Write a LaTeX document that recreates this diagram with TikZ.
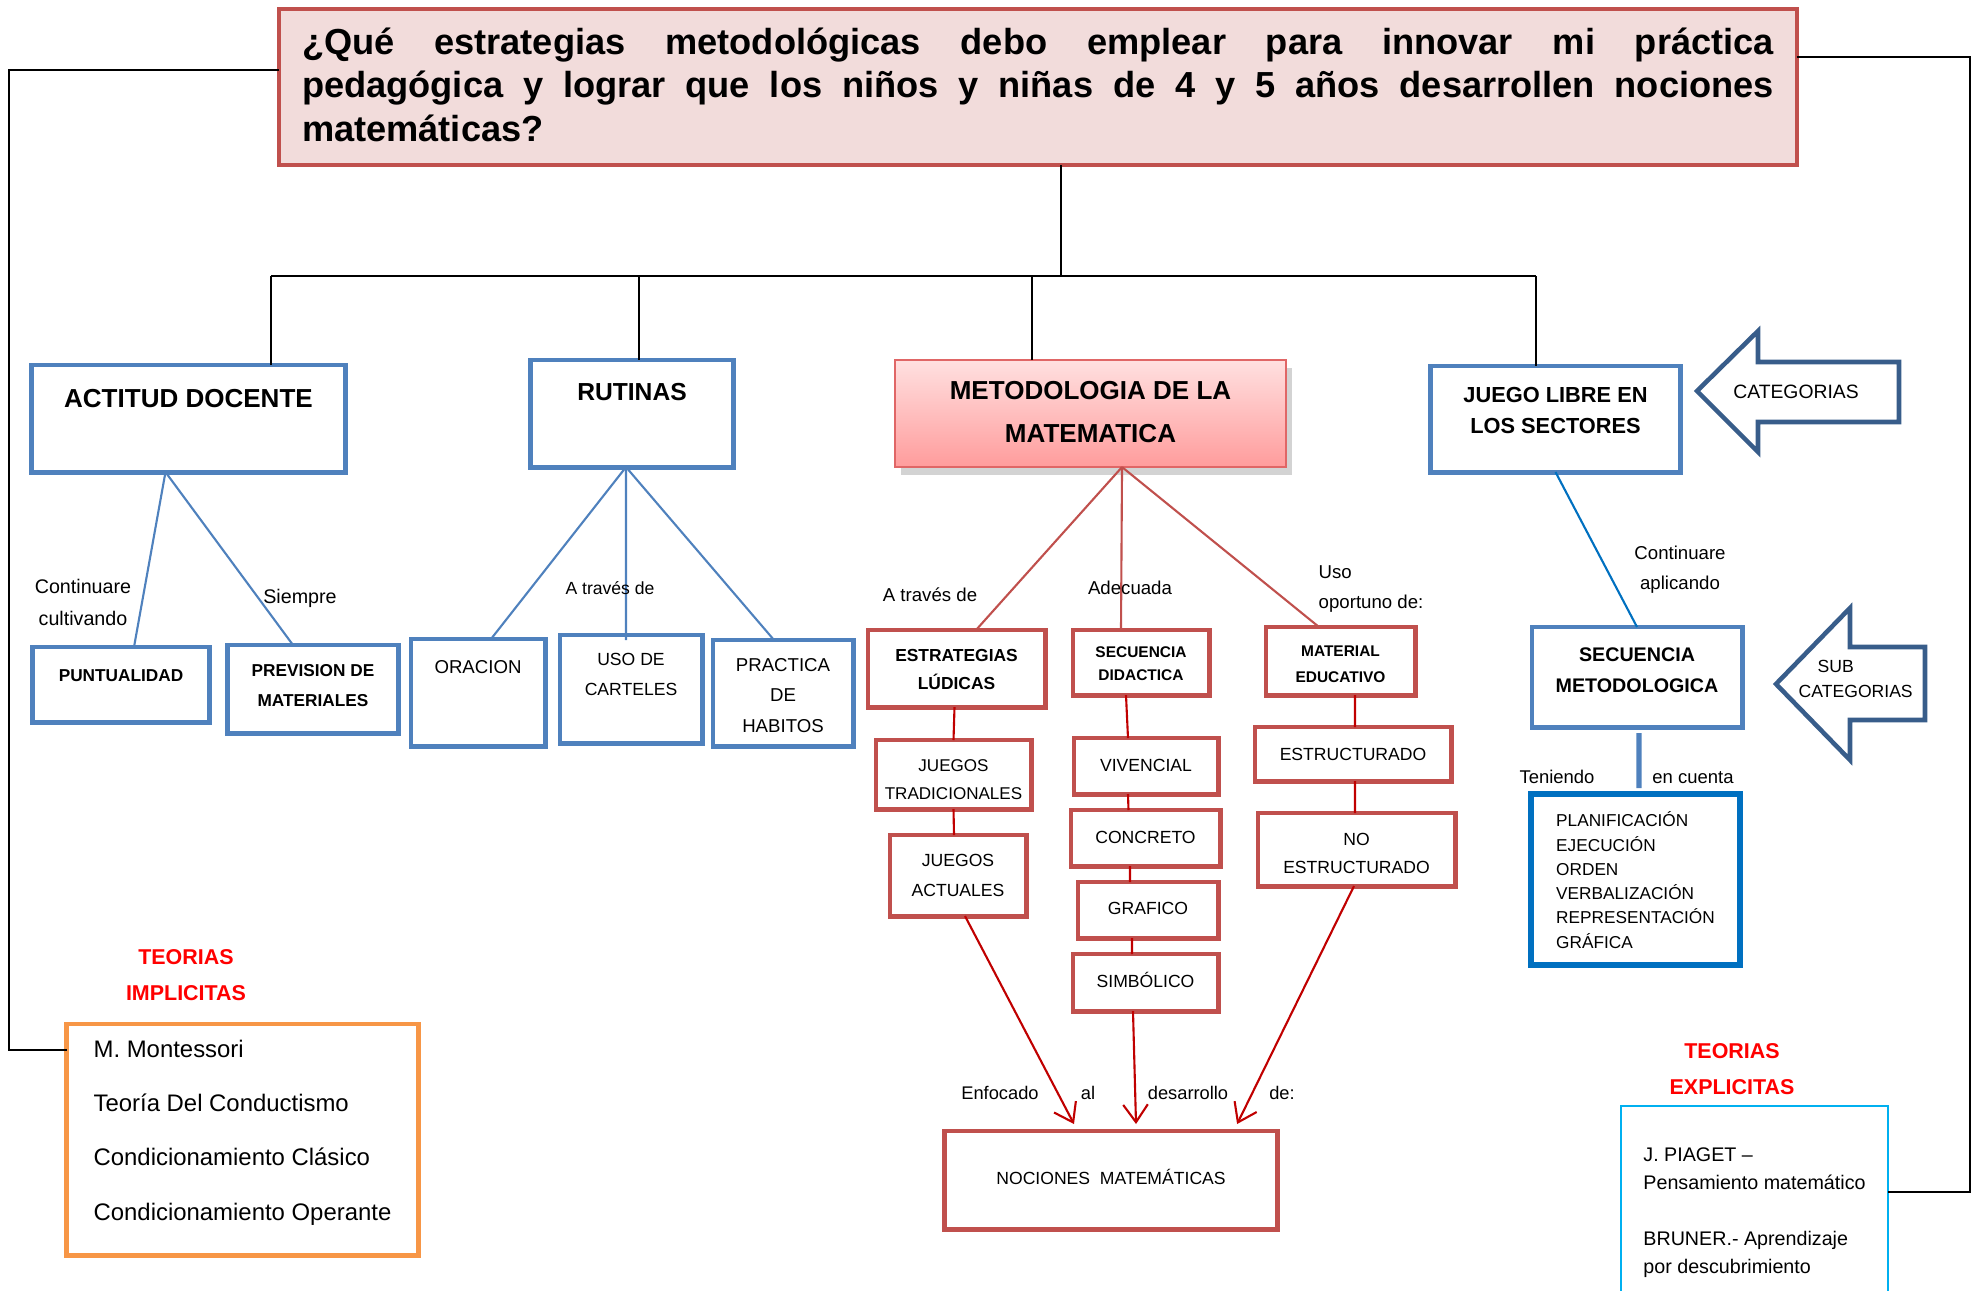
\documentclass[tikz,border=0pt]{standalone}
\usepackage{fontspec}
\setmainfont{Liberation Sans}
\usetikzlibrary{shadows,arrows.meta}

\definecolor{azul}{HTML}{4F81BD}
\definecolor{azulosc}{HTML}{385D8A}
\definecolor{azulfuerte}{HTML}{0070C0}
\definecolor{celeste}{HTML}{00B0F0}
\definecolor{rojo}{HTML}{C0504D}
\definecolor{rojolinea}{HTML}{C00000}
\definecolor{rosa}{HTML}{F2DCDB}
\definecolor{naranja}{HTML}{F79646}
\definecolor{metborde}{HTML}{E06666}
\definecolor{metarriba}{HTML}{FFE0E0}
\definecolor{metabajo}{HTML}{FF9C9C}

\def\letra#1#2{\fontsize{#1pt}{#2pt}\selectfont}

\begin{document}
\begin{tikzpicture}[x=0.01cm, y=-0.01cm,
	caja/.style={draw, line width=1.4pt, inner xsep=1pt, inner ysep=0pt, outer sep=0pt, anchor=north, align=center},
	cazul/.style={caja, draw=azul},
	crojo/.style={caja, draw=rojo},
	dim/.style n args={3}{minimum width=#1cm, text height=#2cm, text depth=#3cm},
	lazul/.style={draw=azul, line width=0.6pt},
	lrojo/.style={draw=rojolinea, line width=0.6pt},
	negro/.style={line width=0.8pt},
	etiq/.style={anchor=base, align=center, inner sep=0pt},
	flecha/.style={draw=azulosc, line width=1.3pt, line join=miter},
	punta/.style={-{Straight Barb[length=5pt,width=7pt]}}
	]
	\useasboundingbox (0,0) rectangle (1979,1290);

	% pregunta
	\node[draw=rojo, fill=rosa, line width=1.2pt, anchor=north west, text width=14.71cm, inner xsep=0.23cm, inner ysep=0pt, outer sep=0pt, text height=0.45cm, text depth=1.11cm, align=justify, font=\letra{10.3}{12.4}\bfseries] (pregunta) at (279,9) {\spaceskip=.278em plus 3em minus .05em\hyphenpenalty=10000
		¿Qué estrategias metodológicas debo emplear para innovar mi práctica\linebreak
		pedagógica y lograr que los niños y niñas de 4 y 5 años desarrollen nociones\linebreak
		matemáticas?};

	% categorias
	\node[cazul, dim={3.13}{.42}{.65}, font=\letra{7.4}{9}\bfseries] (actitud) at (188.5,365) {ACTITUD DOCENTE};
	\node[cazul, dim={2.02}{.40}{.67}, font=\letra{7.0}{8.5}\bfseries] (rutinas) at (632,360) {RUTINAS};
	\node[caja, draw=metborde, line width=0.6pt, top color=metarriba, bottom color=metabajo,
		drop shadow={opacity=0.35, shadow xshift=0.06cm, shadow yshift=-0.08cm},
		dim={3.91}{.82}{.25}, font=\letra{7.4}{12.2}\bfseries] (metodo) at (1090.5,360) {METODOLOGIA DE LA\\MATEMATICA};
	\node[cazul, dim={2.49}{.67}{.39}, font=\letra{6.2}{8.6}\bfseries] (juego) at (1555.5,366) {JUEGO LIBRE EN\\LOS SECTORES};

	% bus
	\coordinate (tronco) at (1061,276);
	\coordinate (busizq) at (271,276);
	\coordinate (bus2) at (639,276);
	\coordinate (bus3) at (1032,276);
	\coordinate (busder) at (1536,276);
	\draw[negro] (pregunta.south -| tronco) -- (tronco);
	\draw[negro] (busizq) -- (busder);
	\draw[negro] (busizq) -- (busizq |- actitud.north);
	\draw[negro] (bus2) -- (bus2 |- rutinas.north);
	\draw[negro] (bus3) -- (bus3 |- metodo.north);
	\draw[negro] (busder) -- (busder |- juego.north);

	% actitud docente
	\node[cazul, dim={1.76}{.34}{.41}, font=\letra{4.9}{6}\bfseries] (puntual) at (121,647) {PUNTUALIDAD};
	\node[cazul, dim={1.70}{.61}{.27}, font=\letra{4.9}{8.3}\bfseries] (prevision) at (313,645) {PREVISION DE\\MATERIALES};
	\draw[lazul] ([xshift=-.23cm]actitud.south) -- ([xshift=.13cm]puntual.north);
	\draw[lazul] ([xshift=-.23cm]actitud.south) -- ([xshift=-.20cm]prevision.north);
	\node[etiq, font=\letra{5.6}{9.1}] (lcontinuare) at (83,625) {Continuare\\cultivando};
	\node[etiq, font=\letra{5.6}{6.7}] (lsiempre) at (300,603) {Siempre};

	% rutinas
	\node[cazul, dim={1.34}{.34}{.73}, font=\letra{5.3}{6.4}] (oracion) at (478,639) {ORACION};
	\node[cazul, dim={1.42}{.60}{.48}, font=\letra{5.0}{8.3}] (carteles) at (631,635) {USO DE\\CARTELES};
	\node[cazul, dim={1.40}{.92}{.14}, font=\letra{5.3}{8.6}] (habitos) at (783,640) {PRACTICA\\DE\\HABITOS};
	\draw[lazul] ([xshift=-.06cm]rutinas.south) -- ([xshift=.13cm]oracion.north);
	\draw[lazul] ([xshift=-.06cm]rutinas.south) -- ([xshift=-.05cm,yshift=-.05cm]carteles.north);
	\draw[lazul] ([xshift=-.06cm]rutinas.south) -- ([xshift=-.09cm]habitos.north);
	\node[etiq, font=\letra{5.0}{6}] (latraves) at (610,594) {A través de};

	% metodologia
	\node[crojo, dim={1.77}{.59}{.18}, font=\letra{4.95}{7.9}\bfseries] (ludicas) at (956.5,630) {ESTRATEGIAS\\LÚDICAS};
	\node[crojo, dim={1.55}{.59}{.10}, font=\letra{4.85}{7.9}] (jtrad) at (953.5,740) {JUEGOS\\TRADICIONALES};
	\node[crojo, dim={1.36}{.61}{.20}, font=\letra{5.0}{8.3}] (jact) at (958,835) {JUEGOS\\ACTUALES};
	\node[crojo, dim={1.36}{.50}{.15}, font=\letra{4.4}{6.5}\bfseries] (secdid) at (1141,630) {SECUENCIA\\DIDACTICA};
	\node[crojo, dim={1.44}{.33}{.23}, font=\letra{5.0}{6}] (vivencial) at (1146,738) {VIVENCIAL};
	\node[crojo, dim={1.49}{.33}{.23}, font=\letra{5.0}{6}] (concreto) at (1145.5,810) {CONCRETO};
	\node[crojo, dim={1.40}{.32}{.24}, font=\letra{5.0}{6}] (grafico) at (1148,882) {GRAFICO};
	\node[crojo, dim={1.45}{.33}{.24}, font=\letra{5.0}{6}] (simbolico) at (1145.5,954) {SIMBÓLICO};
	\node[crojo, dim={1.49}{.55}{.13}, font=\letra{4.4}{7.2}\bfseries] (material) at (1340.5,627) {MATERIAL\\EDUCATIVO};
	\node[crojo, dim={1.96}{.33}{.21}, font=\letra{5.0}{6}] (estruct) at (1353,727) {ESTRUCTURADO};
	\node[crojo, dim={1.97}{.60}{.13}, font=\letra{5.0}{7.9}] (noestruct) at (1356.5,813) {NO\\ESTRUCTURADO};
	\node[crojo, dim={3.32}{.53}{.45}, font=\letra{5.0}{6}] (nociones) at (1111,1131) {NOCIONES\ \ MATEMÁTICAS};

	\draw[draw=rojo, line width=0.6pt] ([xshift=.315cm]metodo.south) -- ([xshift=.195cm]ludicas.north);
	\draw[draw=rojo, line width=0.6pt] ([xshift=.315cm]metodo.south) -- ([xshift=-.20cm]secdid.north);
	\draw[draw=rojo, line width=0.6pt] ([xshift=.315cm]metodo.south) -- ([xshift=-.215cm]material.north);
	\node[etiq, font=\letra{5.3}{6.4}] (latraves2) at (930,601) {A través de};
	\node[etiq, font=\letra{5.3}{6.4}] (ladecuada) at (1130,594) {Adecuada};
	\node[etiq, anchor=base west, align=left, font=\letra{5.3}{8.5}] (luso) at (1318,608) {Uso\\oportuno de:};

	\draw[lrojo] ([xshift=-.02cm]ludicas.south) -- (jtrad.north);
	\draw[lrojo] (jtrad.south) -- ([xshift=-.04cm]jact.north);
	\draw[lrojo] ([xshift=-.15cm]secdid.south) -- ([xshift=-.18cm]vivencial.north);
	\draw[lrojo] ([xshift=-.18cm]vivencial.south) -- ([xshift=-.17cm]concreto.north);
	\draw[lrojo] ([xshift=-.155cm]concreto.south) -- ([xshift=-.18cm]grafico.north);
	\draw[lrojo] ([xshift=-.16cm]grafico.south) -- ([xshift=-.135cm]simbolico.north);
	\draw[lrojo] ([xshift=.145cm]material.south) -- ([xshift=.02cm]estruct.north);
	\draw[lrojo] ([xshift=.02cm]estruct.south) -- ([xshift=-.015cm]noestruct.north);

	% hacia nociones
	\draw[lrojo, punta] ([xshift=.07cm]jact.south) -- ([xshift=-.37cm,yshift=.07cm]nociones.north);
	\draw[lrojo, punta] ([xshift=-.125cm]simbolico.south) -- ([xshift=.25cm,yshift=.07cm]nociones.north);
	\draw[lrojo, punta] ([xshift=-.025cm]noestruct.south) -- ([xshift=1.26cm,yshift=.07cm]nociones.north);
	\node[etiq, font=\letra{5.2}{6.2}] (lenfocado) at (1000,1099) {Enfocado};
	\node[etiq, font=\letra{5.2}{6.2}] (lal) at (1088,1099) {al};
	\node[etiq, font=\letra{5.2}{6.2}] (ldesarrollo) at (1188,1099) {desarrollo};
	\node[etiq, font=\letra{5.2}{6.2}] (lde) at (1282,1099) {de:};

	% juego libre
	\node[cazul, dim={2.10}{.65}{.35}, font=\letra{5.6}{8.6}\bfseries] (secmet) at (1637,627) {SECUENCIA\\METODOLOGICA};
	\node[caja, draw=azulfuerte, line width=1.5pt, align=left, dim={2.09}{1.54}{.17}, font=\letra{4.9}{6.9}] (planif) at (1635.5,794)
		{PLANIFICACIÓN\\EJECUCIÓN\\ORDEN\\VERBALIZACIÓN\\REPRESENTACIÓN\\GRÁFICA};
	\draw[draw=azulfuerte, line width=0.6pt] (juego.south) -- (secmet.north);
	\draw[draw=azul, line width=1.5pt, shorten <=0.06cm, shorten >=0.06cm] ([xshift=.02cm]secmet.south) -- ([xshift=.035cm]planif.north);
	\node[etiq, font=\letra{5.3}{8.5}] (lcontinuare2) at (1680,589) {Continuare\\aplicando};
	\node[etiq, font=\letra{5.25}{6.3}] (lteniendo) at (1557,783) {Teniendo};
	\node[etiq, font=\letra{5.25}{6.3}] (lencuenta) at (1693,783) {en cuenta};

	% flechas categorias
	\draw[flecha] (1697,391) -- (1758,331) -- (1758,362) -- (1899,362) -- (1899,422) -- (1758,422) -- (1758,452) -- cycle;
	\node[etiq, font=\letra{5.5}{6.6}] (categ) at (1796,398) {CATEGORIAS};
	\draw[flecha] (1776,684) -- (1850,608) -- (1850,647) -- (1925,647) -- (1925,720) -- (1850,720) -- (1850,760) -- cycle;
	\node[etiq, anchor=base west, align=left, font=\letra{5.0}{7.1}] (subcateg) at (1798,697) {\hspace*{0.19cm}SUB\\CATEGORIAS};

	% teorias
	\node[etiq, text=red, font=\letra{6.1}{10}\bfseries] (timplicitas) at (186,1000) {TEORIAS\\IMPLICITAS};
	\node[caja, draw=naranja, align=left, dim={3.51}{1.96}{.35}, font=\letra{6.8}{15.4}] (implic) at (242.5,1024)
		{M. Montessori\\Teoría Del Conductismo\\Condicionamiento Clásico\\Condicionamiento Operante};
	\node[etiq, text=red, font=\letra{6.1}{10}\bfseries] (texplicitas) at (1732,1094) {TEORIAS\\EXPLICITAS};
	\node[caja, draw=celeste, line width=0.7pt, align=left, dim={2.67}{1.67}{.23}, font=\letra{5.6}{7.9}] (explic) at (1754.5,1106)
		{J. PIAGET --\\Pensamiento matemático\\[7.9pt]BRUNER.- Aprendizaje\\por descubrimiento};

	% enlaces laterales
	\coordinate (izqA) at (9,70);
	\coordinate (izqB) at (9,1050);
	\draw[negro] (izqA -| pregunta.west) -- (izqA) -- (izqB) -- (izqB -| implic.west);
	\coordinate (derA) at (1970,57);
	\coordinate (derB) at (1970,1192);
	\draw[negro] (derA -| pregunta.east) -- (derA) -- (derB) -- (derB -| explic.east);
\end{tikzpicture}
\end{document}
